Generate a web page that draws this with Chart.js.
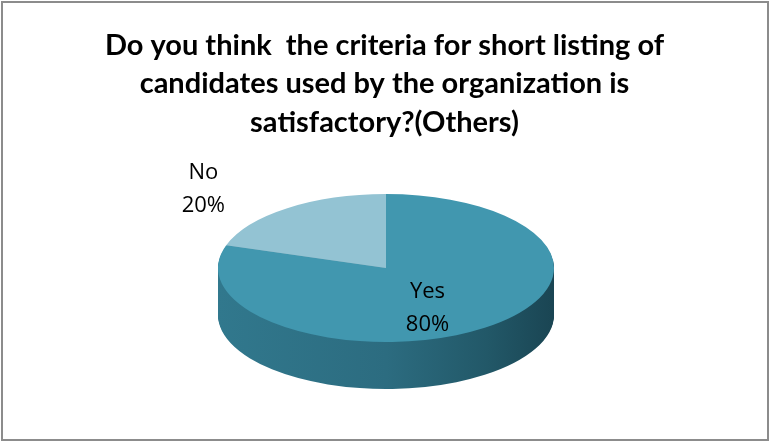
<!DOCTYPE html>
<html>
<head>
<meta charset="utf-8">
<script src="https://cdn.jsdelivr.net/npm/chart.js@4"></script>
<style>
  body { margin: 0; background: #fff; }
  #wrap { width: 769px; height: 441px; }
</style>
</head>
<body>
<div id="wrap"><canvas id="myChart" width="769" height="441"></canvas></div>
<script>
const labels = ["Yes", "No"];
const values = [80, 20];
const percentText = ["80%", "20%"];
const titleLines = [
    "Do you think  the criteria for short listing of",
    "candidates used by the organization is",
    "satisfactory?(Others)"
];

const topColors = ['#4197AF', '#93C3D3'];
const sideColors = [null, '#6F9DAD']; // null -> gradient for the front side

// where the flattened pie sits on the page
const pie3d = { cx: 386, cy: 268, rx: 168, ry: 74, depth: 47 };

function pieTransform(ctx, arc) {
    ctx.translate(pie3d.cx, pie3d.cy);
    ctx.scale(pie3d.rx / arc.outerRadius, pie3d.ry / arc.outerRadius);
    ctx.translate(-arc.x, -arc.y);
}

const frame = {
    id: 'frame',
    beforeDraw(chart) {
        const c = chart.ctx;
        c.save();
        c.fillStyle = '#fff';
        c.fillRect(0, 0, chart.width, chart.height);
        c.strokeStyle = '#8c8c8c';
        c.lineWidth = 2;
        c.strokeRect(2, 2, chart.width - 3, chart.height - 3);
        c.restore();
    }
};

const flatPie = {
    id: 'flatPie',
    beforeDatasetsDraw(chart) {
        const c = chart.ctx;
        const arcs = chart.getDatasetMeta(0).data;
        const a0 = arcs[0];
        // side walls, drawn layer by layer from the bottom up
        for (let d = pie3d.depth; d >= 1; d--) {
            c.save();
            c.translate(0, d);
            pieTransform(c, a0);
            const g = c.createLinearGradient(a0.x - a0.outerRadius, 0, a0.x + a0.outerRadius, 0);
            g.addColorStop(0, '#31788D');
            g.addColorStop(0.5, '#2C6C80');
            g.addColorStop(0.8, '#225868');
            g.addColorStop(1, '#1A4553');
            arcs.forEach((arc, i) => {
                const side = Object.create(arc);
                side.options = Object.assign({}, arc.options, {
                    backgroundColor: sideColors[i] || g,
                    borderWidth: 0
                });
                side.draw(c);
            });
            c.restore();
        }
        c.save();
        pieTransform(c, a0);
    },
    afterDatasetsDraw(chart) {
        const c = chart.ctx;
        c.restore();
        const arcs = chart.getDatasetMeta(0).data;
        c.save();
        c.fillStyle = '#000';
        c.font = '22px "Open Sans", "Liberation Sans", sans-serif';
        c.textAlign = 'center';
        c.textBaseline = 'middle';
        arcs.forEach((arc, i) => {
            const mid = (arc.startAngle + arc.endAngle) / 2;
            const inside = values[i] >= 50;
            const fx = inside ? 0.42 : 1.85;
            const fy = inside ? 0.66 : 1.32;
            const x = pie3d.cx + pie3d.rx * fx * Math.cos(mid);
            const y = pie3d.cy + pie3d.ry * fy * Math.sin(mid);
            c.fillText(labels[i], x, y - 16);
            c.fillText(percentText[i], x, y + 17);
        });
        c.restore();
    }
};

const ctx = document.getElementById("myChart").getContext("2d");

const data = {
    labels,
    datasets: [{
        data: values,
        backgroundColor: topColors,
        borderWidth: 0,
        clip: false
    }]
};

const config = {
    type: 'pie',
    data: data,
    options: {
        responsive: false,
        animation: false,
        layout: { padding: { bottom: 20 } },
        plugins: {
            legend: { display: false },
            tooltip: { enabled: false },
            title: {
                display: true,
                text: titleLines,
                color: '#000',
                font: {
                    family: 'Lato, "Liberation Sans", sans-serif',
                    size: 29,
                    weight: 'bold',
                    lineHeight: 1.33
                },
                padding: { top: 26, bottom: 10 }
            }
        }
    },
    plugins: [frame, flatPie]
};

const myChart = new Chart(ctx, config);
</script>
</body>
</html>
